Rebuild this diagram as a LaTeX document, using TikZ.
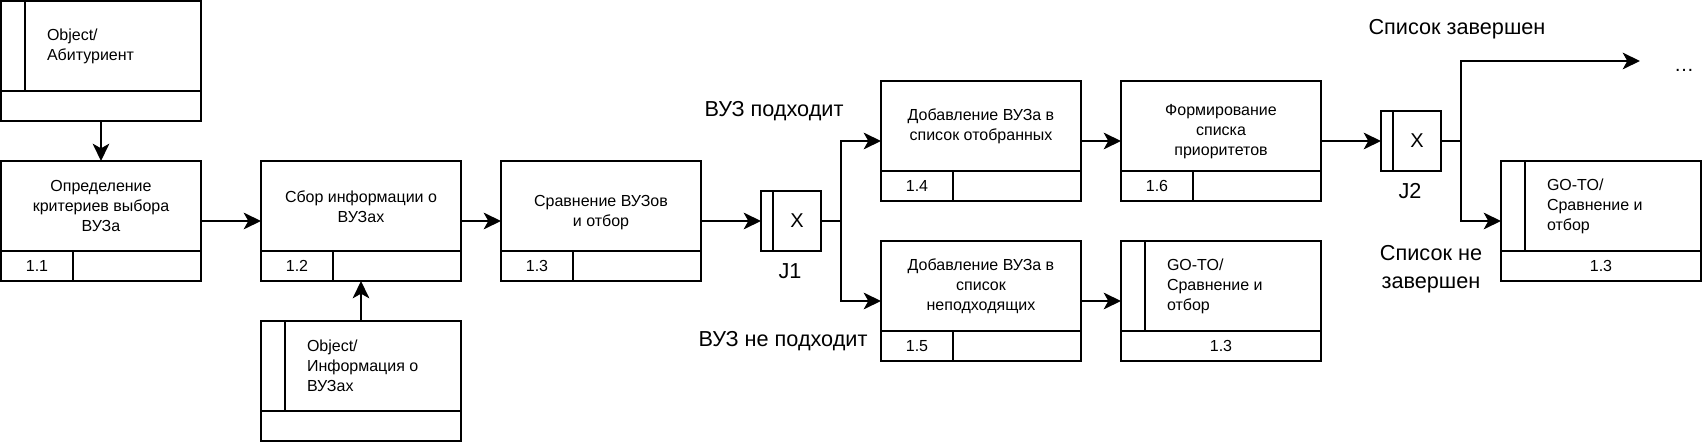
\documentclass[tikz,border=0pt]{standalone}
\usepackage{fontspec}
\setmainfont{Liberation Sans}
\usetikzlibrary{positioning,arrows.meta}

\begin{document}
\begin{tikzpicture}[
  x=0.75pt, y=-0.75pt, line width=1.5pt,
  >={Stealth[length=13pt,width=12.5pt,inset=3.5pt]},
  font=\fontsize{12pt}{15pt}\selectfont,
  uob/.style={draw, minimum width=150pt, minimum height=90pt, outer sep=0pt,
    path picture={
      \draw ([yshift=22.5pt]path picture bounding box.south west)
         -- ([yshift=22.5pt]path picture bounding box.south east);
      \draw ([xshift=54pt]path picture bounding box.south west)
         -- ([xshift=54pt,yshift=22.5pt]path picture bounding box.south west);}},
  refbox/.style={draw, minimum width=150pt, minimum height=90pt, outer sep=0pt,
    path picture={
      \draw ([yshift=22.5pt]path picture bounding box.south west)
         -- ([yshift=22.5pt]path picture bounding box.south east);
      \draw ([xshift=18pt]path picture bounding box.north west)
         -- ([xshift=18pt,yshift=22.5pt]path picture bounding box.south west);}},
  jct/.style={draw, minimum size=45pt, outer sep=0pt,
    font=\fontsize{15pt}{18pt}\selectfont,
    path picture={
      \draw ([xshift=9pt]path picture bounding box.north west)
         -- ([xshift=9pt]path picture bounding box.south west);}},
  txt/.style={align=center, inner sep=0pt},
  rtxt/.style={align=left, inner sep=0pt, anchor=west},
  lbl/.style={align=center, inner sep=0pt, font=\fontsize{16.25pt}{21pt}\selectfont}
]
\useasboundingbox (0,0) rectangle (1704,442);

% referents
\node[refbox] (ob1) at (101,61) {};
\node[rtxt] (tob1) at ([xshift=33.75pt,yshift=11.25pt]ob1.west) {Object/\\Абитуриент};
\node[refbox] (ob2) at (361,381) {};
\node[rtxt] (tob2) at ([xshift=33.75pt,yshift=11.25pt]ob2.west) {Object/\\Информация о\\ВУЗах};

% units of behaviour
\node[uob] (u11) at (101,221) {};
\node[txt] (t11) at ([yshift=11.25pt]u11.center) {Определение\\критериев выбора\\ВУЗа};
\node[txt] (n11) at ([xshift=27pt,yshift=11.25pt]u11.south west) {1.1};

\node[uob] (u12) at (361,221) {};
\node[txt] (t12) at ([yshift=10.75pt]u12.center) {Сбор информации о\\ВУЗах};
\node[txt] (n12) at ([xshift=27pt,yshift=11.25pt]u12.south west) {1.2};

\node[uob] (u13) at (601,221) {};
\node[txt] (t13) at ([yshift=6.25pt]u13.center) {Сравнение ВУЗов\\и отбор};
\node[txt] (n13) at ([xshift=27pt,yshift=11.25pt]u13.south west) {1.3};

\node[jct] (j1) at (791,221) {\hspace*{9pt}X};
\node[lbl] (lj1) at (790,271) {J1};

\node[uob] (u14) at (981,141) {};
\node[txt] (t14) at ([yshift=10.75pt]u14.center) {Добавление ВУЗа в\\список отобранных};
\node[txt] (n14) at ([xshift=27pt,yshift=11.25pt]u14.south west) {1.4};

\node[uob] (u15) at (981,301) {};
\node[txt] (t15) at ([yshift=11.25pt]u15.center) {Добавление ВУЗа в\\список\\неподходящих};
\node[txt] (n15) at ([xshift=27pt,yshift=11.25pt]u15.south west) {1.5};

\node[uob] (u16) at (1221,141) {};
\node[txt] (t16) at ([yshift=7pt]u16.center) {Формирование\\списка\\приоритетов};
\node[txt] (n16) at ([xshift=27pt,yshift=11.25pt]u16.south west) {1.6};

\node[refbox] (g1) at (1221,301) {};
\node[rtxt] (tg1) at ([xshift=33.75pt,yshift=11.25pt]g1.west) {GO-TO/\\Сравнение и\\отбор};
\node[txt] (ng1) at ([yshift=11.25pt]g1.south) {1.3};

\node[jct] (j2) at (1411,141) {\hspace*{9pt}X};
\node[lbl] (lj2) at (1410,191) {J2};

\node[refbox] (g2) at (1601,221) {};
\node[rtxt] (tg2) at ([xshift=33.75pt,yshift=11.25pt]g2.west) {GO-TO/\\Сравнение и\\отбор};
\node[txt] (ng2) at ([yshift=11.25pt]g2.south) {1.3};

\coordinate (fin) at (1640,61);
\node[txt, font=\fontsize{15pt}{18pt}\selectfont] (dots) at (1684,70) {…};

% branch labels
\node[lbl] (ok) at (774,111) {ВУЗ подходит};
\node[lbl] (nok) at (783,341) {ВУЗ не подходит};
\node[lbl] (done) at (1457,29) {Список завершен};
\node[lbl] (ndone) at (1431,269) {Список не\\завершен};

% connectors
\draw[->] (ob1) -- (u11);
\draw[->] (u11) -- (u12);
\draw[->] (ob2) -- (u12);
\draw[->] (u12) -- (u13);
\draw[->] (u13) -- (j1);
\draw[->] (j1.east) -- ++(20,0) |- (u14.west);
\draw[->] (j1.east) -- ++(20,0) |- (u15.west);
\draw[->] (u14) -- (u16);
\draw[->] (u15) -- (g1);
\draw[->] (u16) -- (j2);
\draw[->] (j2.east) -- ++(20,0) |- (fin);
\draw[->] (j2.east) -- ++(20,0) |- (g2.west);
\end{tikzpicture}
\end{document}
